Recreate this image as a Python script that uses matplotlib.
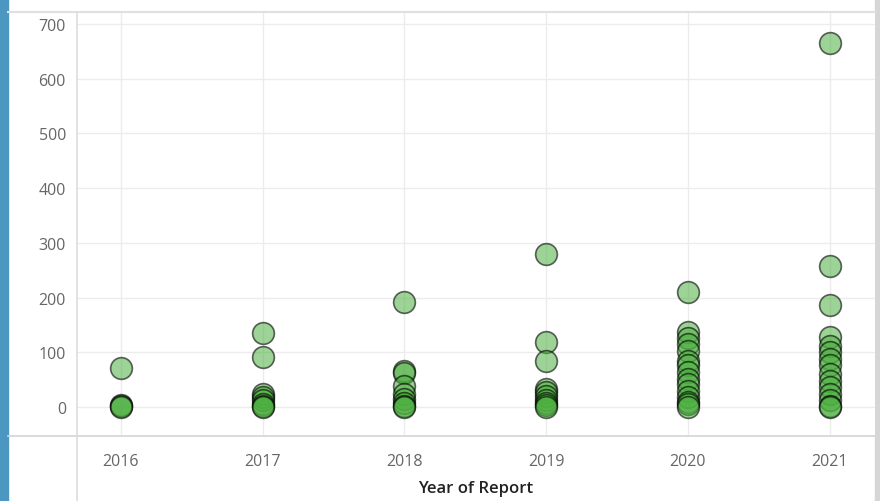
import matplotlib.pyplot as plt
import numpy as np
from matplotlib.lines import Line2D
from matplotlib.patches import Rectangle

plt.rcParams['font.family'] = ['Open Sans', 'DejaVu Sans']

# values per year of report
years = [2016, 2017, 2018, 2019, 2020, 2021]
values_2016 = [72, 3, 1, 0]
values_2017 = [135, 92, 24, 18, 12, 6, 2, 0]
values_2018 = [192, 66, 62, 39, 24, 15, 7, 2, 0]
values_2019 = [280, 118, 85, 33, 27, 20, 13, 7, 3, 0]
values_2020 = [210, 138, 127, 115, 103, 85, 76, 64, 51, 42, 30, 18, 10, 5, 0]
values_2021 = [665, 257, 186, 128, 112, 100, 88, 76, 60, 48, 37, 24, 12, 2, 0]
y_ticks = [0, 100, 200, 300, 400, 500, 600, 700]

all_values = [values_2016, values_2017, values_2018, values_2019, values_2020, values_2021]
xs = np.concatenate([[yr] * len(v) for yr, v in zip(years, all_values)])
ys = np.concatenate(all_values)

fig = plt.figure(figsize=(8.8, 5.02), dpi=100)
ax = fig.add_axes([77 / 880, 65 / 502, 798 / 880, 424 / 502])

ax.scatter(xs, ys, s=245, facecolor=(0.30, 0.69, 0.25, 0.55),
           edgecolor=(0, 0, 0, 0.6), linewidth=1.2, zorder=3)

ax.set_xlim(2015.69, 2021.32)
ax.set_ylim(-53, 722)
ax.set_xticks(years)
ax.set_yticks(y_ticks)
ax.grid(True, color='#ececec', linewidth=1, zorder=0)
for s in ax.spines.values():
    s.set_visible(False)
ax.tick_params(length=0, colors='#666666', labelsize=11.5)
ax.tick_params(axis='x', pad=12)
ax.tick_params(axis='y', pad=8)
ax.set_xlabel('Year of Report', fontsize=12, color='#222222',
              fontweight='semibold', labelpad=8)

# frame decorations
fig.add_artist(Rectangle((0, 0), 8 / 880, 1, transform=fig.transFigure,
                         color='#4b97c2', zorder=0))
fig.add_artist(Rectangle((875 / 880, 0), 5 / 880, 1, transform=fig.transFigure,
                         color='#d6d6d6', zorder=0))
fig.add_artist(Line2D([8 / 880, 875 / 880], [1 - 13 / 502] * 2,
                      transform=fig.transFigure, color='#e0e0e0', lw=1.5))
fig.add_artist(Line2D([8 / 880, 875 / 880], [65 / 502] * 2,
                      transform=fig.transFigure, color='#d4d4d4', lw=1.2))
fig.add_artist(Line2D([77 / 880] * 2, [0, 1 - 13 / 502],
                      transform=fig.transFigure, color='#dddddd', lw=1.2))

fig.savefig('out.png', dpi=100)
